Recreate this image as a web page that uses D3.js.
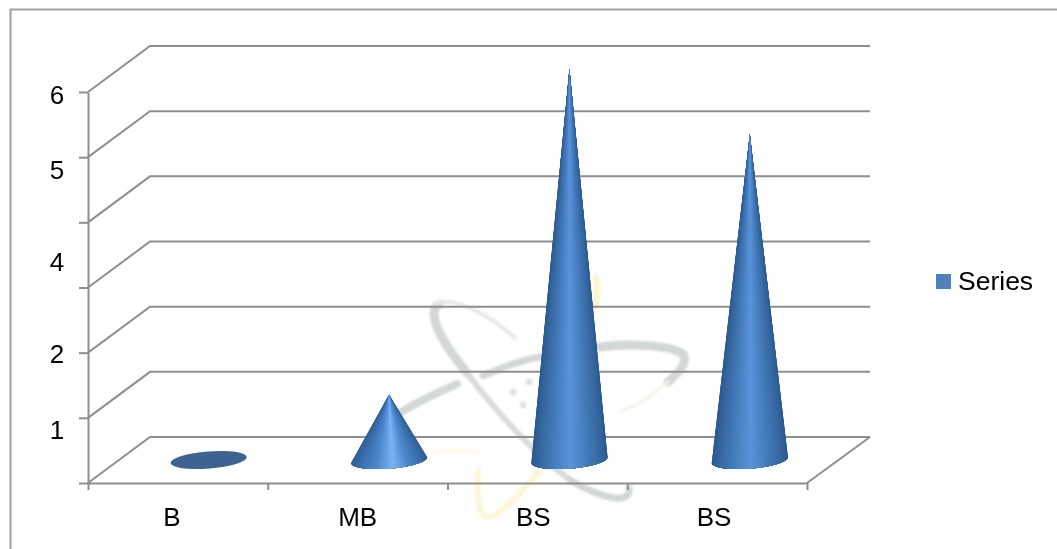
<!DOCTYPE html>
<html>
<head>
<meta charset="utf-8">
<style>
  html, body { margin: 0; padding: 0; background: #fff; overflow: hidden; }
  text { font-family: "Liberation Sans", Arial, sans-serif; fill: #000; }
</style>
</head>
<body>
<div id="chart"></div>
<script src="https://cdn.jsdelivr.net/npm/d3@7"></script>
<script>
const categories = ["B", "MB", "BS", "BS"];
const seriesValues = [0, 1, 6, 5];
const seriesName = "Series";
const gridTicks = [0, 1, 2, 3, 4, 5, 6];
// the value labels do not sit on the gridlines in the picture
const valueLabels = ["1", "2", "4", "5", "6"];
const valueLabelAt = [0.81, 1.98, 3.4, 4.8, 5.95];

const width = 1057;
const height = 549;
const left = 88, right = 807, floorY = 483;
const depthX = 62, depthY = 46;
const backRight = 870;
const gridColor = "#8e8e8e";

const root = d3.select("#chart")
  .append("svg")
  .attr("width", width)
  .attr("height", height)
  .style("display", "block");

const defs = root.append("defs");
defs.append("filter").attr("id", "soft")
  .append("feGaussianBlur").attr("stdDeviation", 1.1);
// the reference is a slightly blurred upscale
defs.append("filter").attr("id", "picture")
  .attr("filterUnits", "userSpaceOnUse")
  .attr("x", 0).attr("y", 0).attr("width", width).attr("height", height)
  .append("feGaussianBlur").attr("stdDeviation", 0.45);

const svg = root.append("g").attr("filter", "url(#picture)");

svg.append("rect").attr("width", width).attr("height", height).attr("fill", "#fff");

const y = d3.scaleLinear().domain([0, 6]).range([floorY, 92]);
const xTicks = d3.scaleLinear().domain([0, categories.length]).range([left, right]);
const xCone = d3.scaleBand().domain(d3.range(categories.length)).range([87.5, 809]);

// outer frame, open on the right and the bottom
svg.append("path")
  .attr("d", `M1060,9.5H10.5V552`)
  .attr("fill", "none")
  .attr("stroke", "#a0a0a0")
  .attr("stroke-width", 2);

// faint logo behind the plot
const logo = svg.append("g").attr("filter", "url(#soft)").attr("fill", "none").attr("stroke-linecap", "round");
const logoStrokes = [
  ["M440,304C425,310 440,340 467,373", "#d3d8d6", 9],
  ["M467,373C495,410 530,450 570,480", "#d8dcda", 6],
  ["M570,480C600,498 632,506 629,488", "#d3d8d6", 7],
  ["M436,303C455,297 490,315 515,338", "#e6e9e8", 4],
  ["M400,413C420,400 440,392 457,384", "#d3d8d6", 8],
  ["M483,376C500,368 520,360 545,356", "#d3d8d6", 7],
  ["M600,347C630,343 670,345 683,354C688,362 680,372 668,382", "#d3d8d6", 9],
  ["M668,382C655,393 645,402 620,412", "#f1f3e6", 3],
  ["M540,470C525,488 505,512 490,517C478,518 477,500 478,470", "#fbf7d8", 6],
  ["M433,453C445,450 462,450 478,452", "#fbf9e6", 4],
  ["M596,278C598,290 597,300 594,310", "#fbf6cf", 7]
];
logo.selectAll("path")
  .data(logoStrokes)
  .join("path")
  .attr("d", d => d[0])
  .attr("stroke", d => d[1])
  .attr("stroke-width", d => d[2]);
logo.selectAll("circle")
  .data([[513, 392], [523, 405], [529, 382]])
  .join("circle")
  .attr("cx", d => d[0])
  .attr("cy", d => d[1])
  .attr("r", 3.5)
  .attr("fill", "#dfe2e1");

// gridlines run up the side wall and along the back wall
svg.append("g").selectAll("path")
  .data(gridTicks)
  .join("path")
  .attr("d", d => `M${left},${y(d)}L${left + depthX},${y(d) - depthY}H${backRight}`)
  .attr("fill", "none")
  .attr("stroke", gridColor)
  .attr("stroke-width", 2);

// floor edge on the right
svg.append("line")
  .attr("x1", right)
  .attr("y1", floorY)
  .attr("x2", backRight)
  .attr("y2", floorY - depthY)
  .attr("stroke", gridColor)
  .attr("stroke-width", 2);

const yAxis = svg.append("g")
  .attr("transform", `translate(${left},0)`)
  .call(d3.axisLeft(y).tickValues(gridTicks).tickSize(9).tickSizeOuter(0).tickFormat(""));

const xAxis = svg.append("g")
  .attr("transform", `translate(0,${floorY})`)
  .call(d3.axisBottom(xTicks).ticks(categories.length).tickSize(7).tickSizeOuter(0).tickFormat(""));

[yAxis, xAxis].forEach(axis => {
  axis.selectAll("path, line").attr("stroke", gridColor).attr("stroke-width", 2);
});

// cones: nested slices, narrower and lighter towards the middle, give the round shading
const tilt = -4.5 * Math.PI / 180;
const baseRx = 38.2, baseRy = 8.6;
const tallRamp = d3.scaleLinear()
  .domain([1, 0.85, 0.5, 0])
  .range(["#2c5a8f", "#35669f", "#4379b9", "#5c95dc"]);
const shortRamp = d3.scaleLinear()
  .domain([1, 0.8, 0.4, 0])
  .range(["#2f6097", "#3a70ae", "#4f8ad0", "#7fb5f6"]);

function basePoint(cx, cy, t) {
  const px = baseRx * Math.cos(t), py = baseRy * Math.sin(t);
  return [cx + px * Math.cos(tilt) - py * Math.sin(tilt), cy + px * Math.sin(tilt) + py * Math.cos(tilt)];
}

const cones = svg.append("g");
const sliceSteps = d3.range(0, 1, 1 / 40);
seriesValues.forEach((value, i) => {
  const cx = xCone(i) + xCone.bandwidth() / 2 + depthX / 2;
  const cy = y(0) - depthY / 2;
  if (value === 0) {
    cones.append("ellipse")
      .attr("cx", cx)
      .attr("cy", cy)
      .attr("rx", baseRx)
      .attr("ry", baseRy)
      .attr("transform", `rotate(${tilt * 180 / Math.PI},${cx},${cy})`)
      .attr("fill", "#3c6491");
    return;
  }
  const tipY = y(value) - depthY / 2;
  const ramp = value > 1 ? tallRamp : shortRamp;
  const centre = value > 1 ? Math.PI / 2 : Math.PI / 2 - 0.08; // short cone has its highlight right of middle
  cones.append("g").selectAll("path")
    .data(sliceSteps)
    .join("path")
    .attr("d", s => {
      const from = s * centre;
      const to = Math.PI - s * (Math.PI - centre);
      const arc = d3.range(0, 25).map(k => basePoint(cx, cy, from + (to - from) * k / 24));
      return `M${cx},${tipY}L` + arc.map(p => p.join(",")).join("L") + "Z";
    })
    .attr("fill", s => ramp(Math.cos(s * Math.PI / 2)));
});

// value labels
svg.append("g").selectAll("text")
  .data(valueLabels)
  .join("text")
  .attr("x", 57)
  .attr("y", (d, i) => y(valueLabelAt[i]))
  .attr("dy", "0.35em")
  .attr("text-anchor", "middle")
  .style("font-size", "26px")
  .text(d => d);

// category labels
const labelNudge = [-6, 0, -4, -3];
svg.append("g").selectAll("text")
  .data(categories)
  .join("text")
  .attr("x", (d, i) => xTicks(i + 0.5) + labelNudge[i])
  .attr("y", 526)
  .attr("text-anchor", "middle")
  .style("font-size", "26px")
  .text(d => d);

// legend
svg.append("rect")
  .attr("x", 936)
  .attr("y", 274)
  .attr("width", 15)
  .attr("height", 15)
  .attr("fill", "#4f81bd");

svg.append("text")
  .attr("x", 958)
  .attr("y", 290)
  .style("font-size", "26.5px")
  .text(seriesName);
</script>
</body>
</html>
